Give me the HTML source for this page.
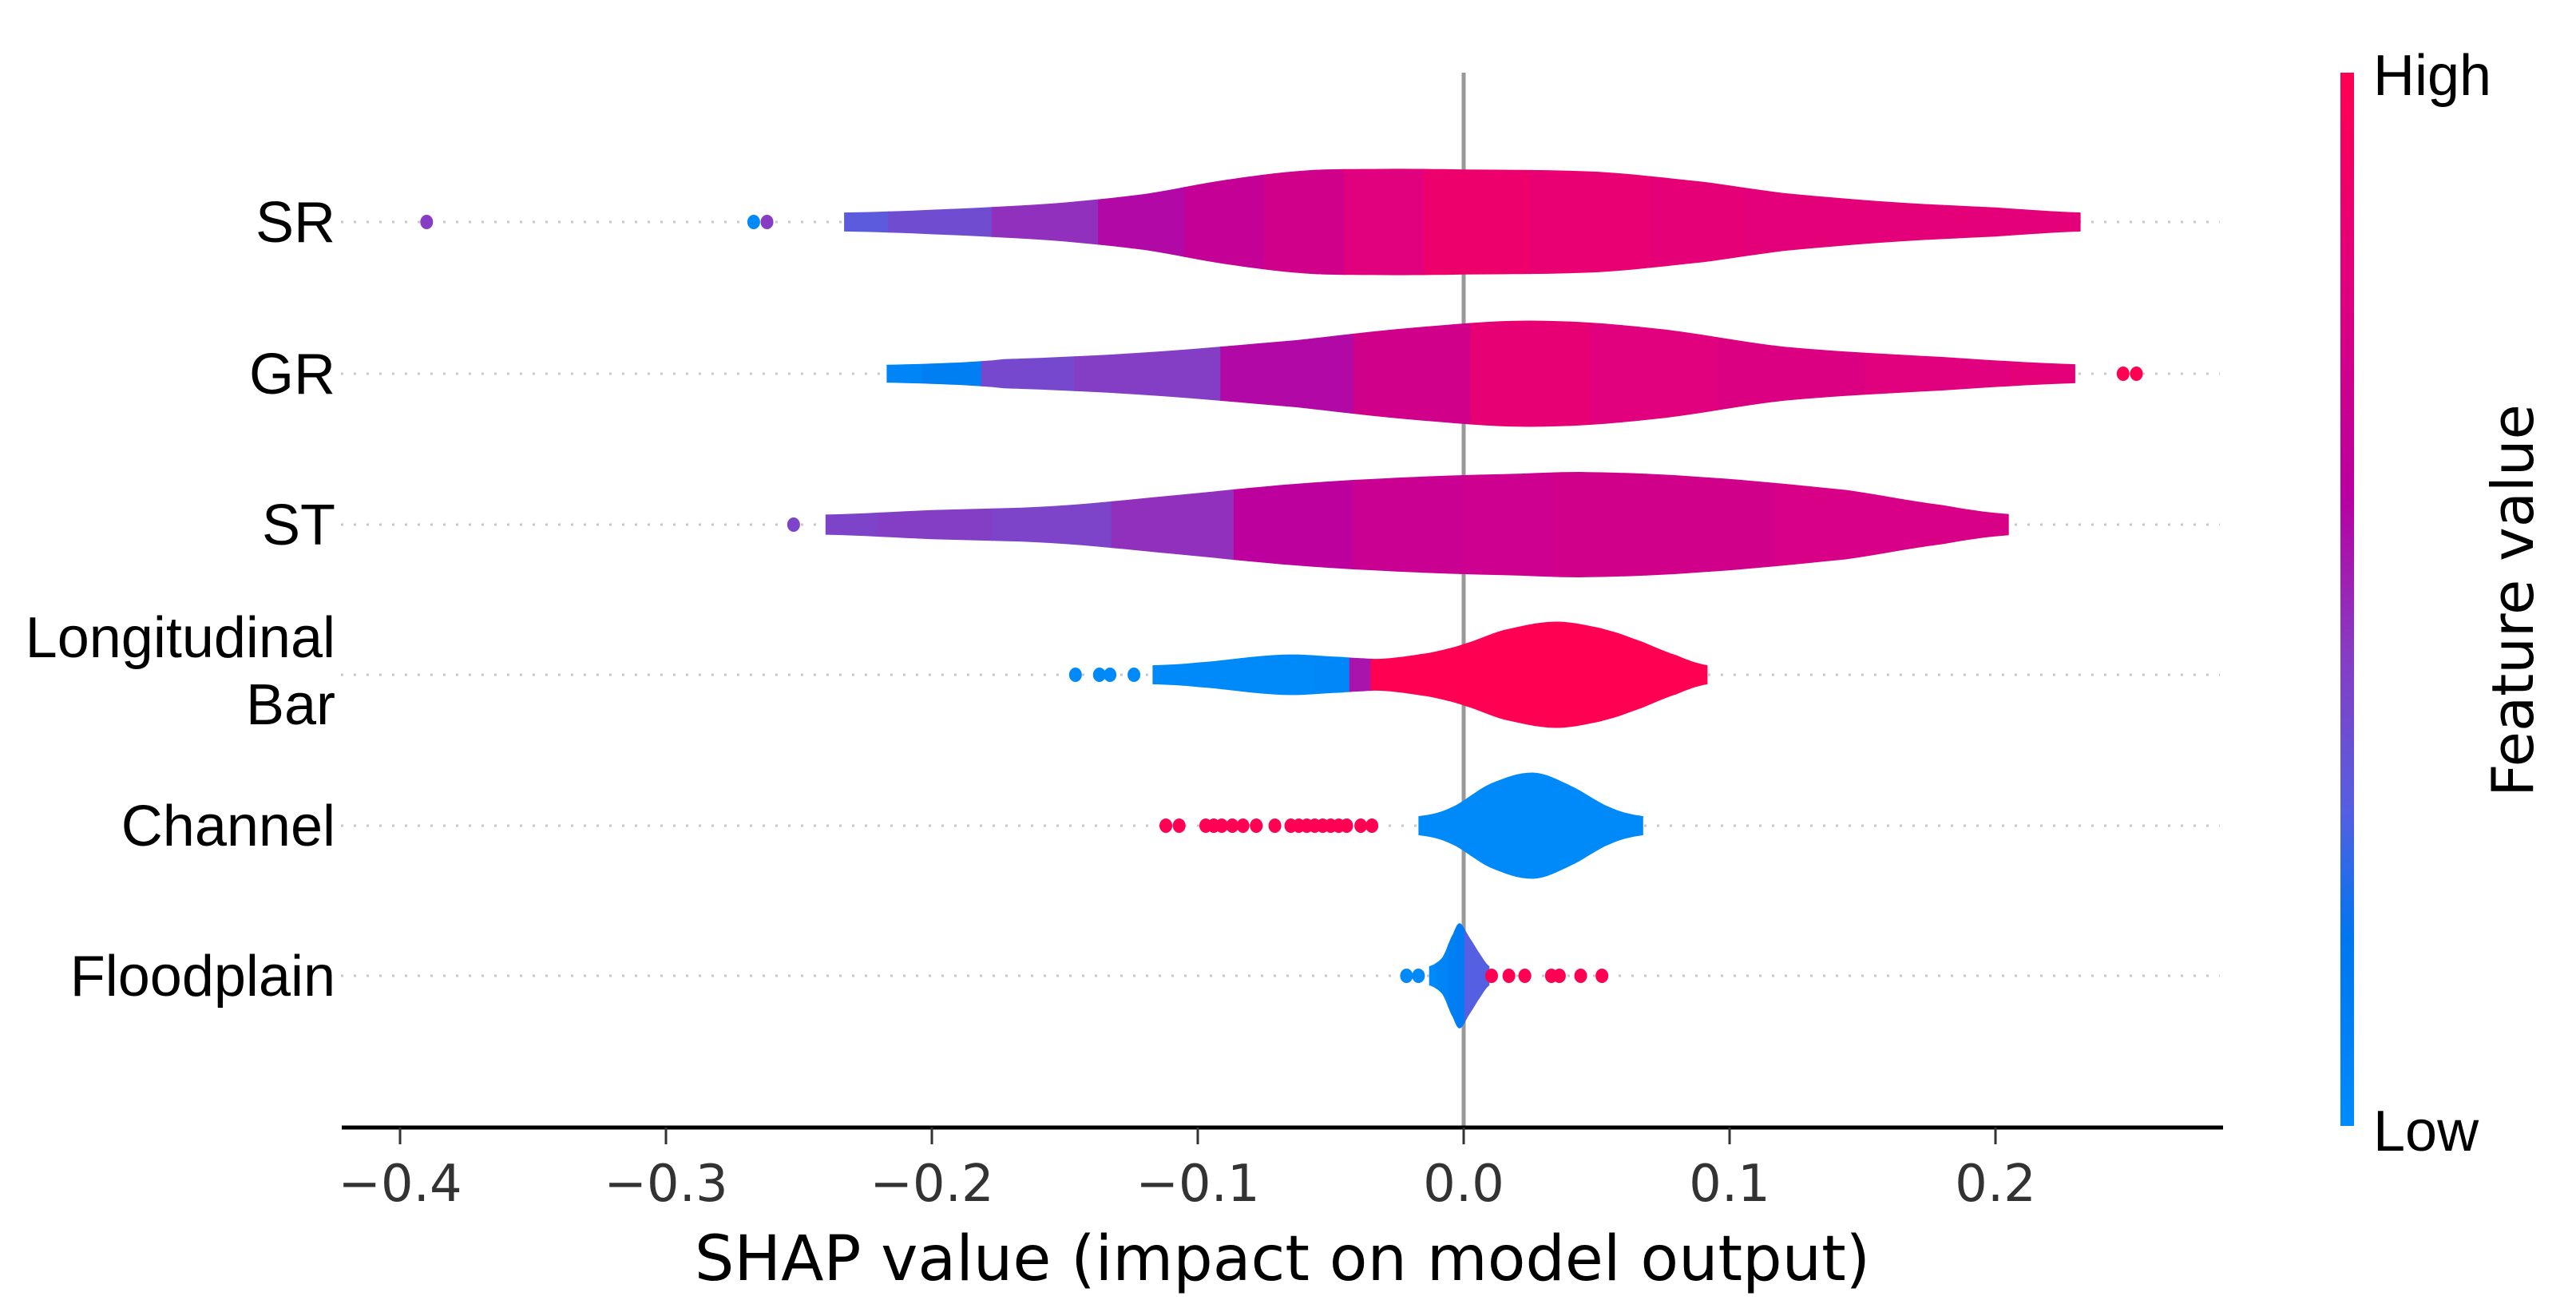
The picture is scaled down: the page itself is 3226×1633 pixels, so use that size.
<!DOCTYPE html>
<html><head><meta charset="utf-8"><style>
html,body{margin:0;padding:0;background:#fff;}
svg{display:block;}
</style></head><body>
<svg id="chart" width="3226" height="1633" viewBox="0 0 3226 1633" xmlns="http://www.w3.org/2000/svg">
<defs>
<linearGradient id="cbar" x1="0" y1="1" x2="0" y2="0">
<stop offset="0" stop-color="rgb(0,139,250)"/>
<stop offset="0.18" stop-color="rgb(0,118,238)"/>
<stop offset="0.3" stop-color="rgb(85,95,225)"/>
<stop offset="0.45" stop-color="rgb(135,60,195)"/>
<stop offset="0.6" stop-color="rgb(185,0,160)"/>
<stop offset="0.8" stop-color="rgb(225,0,125)"/>
<stop offset="1" stop-color="rgb(255,0,82)"/>
</linearGradient>
</defs>
<g id="plot"></g>
</svg>
<script>
// ---- data ----
const features = ["SR","GR","ST","Longitudinal Bar","Channel","Floodplain"];
const xTicks = [-0.4,-0.3,-0.2,-0.1,0.0,0.1,0.2];
const xTickLabels = ["\u22120.4","\u22120.3","\u22120.2","\u22120.1","0.0","0.1","0.2"];
const srX = [-0.233,-0.2,-0.155,-0.12,-0.09,-0.06,-0.03,0,0.05,0.09,0.12,0.16,0.2,0.232];
const srW = [0.17,0.22,0.33,0.5,0.75,0.92,0.95,0.94,0.9,0.72,0.52,0.36,0.26,0.17];
const srC = [0.32,0.38,0.48,0.58,0.66,0.72,0.8,0.88,0.85,0.83,0.82,0.82,0.82,0.82];
const grX = [-0.217,-0.19,-0.173,-0.12,-0.063,-0.02,0.025,0.07,0.121,0.18,0.23];
const grW = [0.16,0.2,0.26,0.38,0.6,0.82,0.95,0.82,0.48,0.3,0.17];
const grC = [0.05,0.1,0.4,0.44,0.58,0.72,0.84,0.8,0.77,0.8,0.82];
const stX = [-0.24,-0.2,-0.155,-0.11,-0.063,-0.02,0.02,0.047,0.09,0.144,0.18,0.205];
const stW = [0.18,0.26,0.33,0.52,0.73,0.85,0.91,0.94,0.85,0.62,0.35,0.19];
const stC = [0.42,0.44,0.42,0.48,0.62,0.68,0.7,0.72,0.72,0.75,0.75,0.75];
const lbX = [-0.117,-0.1,-0.068,-0.046,-0.04,-0.03,-0.012,0,0.015,0.034,0.05,0.063,0.08,0.0917];
const lbW = [0.17,0.22,0.36,0.32,0.3,0.29,0.4,0.55,0.8,0.95,0.85,0.66,0.35,0.17];
const lbC = [0.02,0.02,0.02,0.03,0.55,1,1,1,1,1,1,1,1,1];
const chX = [-0.017,-0.005,0.01,0.026,0.04,0.055,0.0675];
const chW = [0.17,0.32,0.75,0.95,0.72,0.33,0.17];
const chC = [0.02,0.02,0.02,0.02,0.02,0.02,0.02];
const fpX = [-0.013,-0.008,-0.004,-0.0015,0.002,0.006,0.0097];
const fpW = [0.17,0.33,0.75,0.94,0.7,0.4,0.17];
const fpC = [0.02,0.06,0.1,0.12,0.3,0.3,0.3];
const srDotsX = [-0.39,-0.267,-0.262];
const srDotsC = [0.45,0.02,0.45];
const grDotsX = [0.248,0.253];
const grDotsC = [1,1];
const stDotsX = [-0.252];
const stDotsC = [0.42];
const lbDotsX = [-0.146,-0.137,-0.133,-0.124];
const lbDotsC = [0.02,0.02,0.02,0.02];
const chDotsX = [-0.112,-0.107,-0.097,-0.094,-0.091,-0.087,-0.083,-0.078,-0.071,-0.065,-0.062,-0.059,-0.056,-0.053,-0.05,-0.047,-0.044,-0.0387,-0.0345];
const chDotsC = [1,1,1,1,1,1,1,1,1,1,1,1,1,1,1,1,1,1,1];
const fpDotsX = [-0.0215,-0.017,0.0105,0.017,0.023,0.033,0.036,0.044,0.052];
const fpDotsC = [0.02,0.02,1,1,1,1,1,1,1];

// ---- layout ----
const NS = "http://www.w3.org/2000/svg";
const X0 = 1833, PX = 3330; // px per unit
const xs = v => X0 + v * PX;
const rowY = [278, 468, 657, 845, 1034, 1222];
const HALF = 70;
const plot = document.getElementById('plot');
function el(tag, attrs, parent){ const e=document.createElementNS(NS,tag); for(const k in attrs) e.setAttribute(k,attrs[k]); (parent||plot).appendChild(e); return e; }
function cmap(t){
  const st=[[0,[0,139,250]],[0.18,[0,118,238]],[0.3,[85,95,225]],[0.45,[135,60,195]],[0.6,[185,0,160]],[0.8,[225,0,125]],[1,[255,0,82]]];
  for(let i=1;i<st.length;i++){ if(t<=st[i][0]){ const a=st[i-1],b=st[i]; const f=(t-a[0])/(b[0]-a[0]); return 'rgb('+a[1].map((c,j)=>Math.round(c+(b[1][j]-c)*f)).join(',')+')'; } }
  return 'rgb(255,0,82)';
}

rowY.forEach((y,i)=>{
  const l = el('line',{x1:427,x2:2780,y1:y,y2:y,stroke:'#c8c8c8','stroke-width':3,'stroke-dasharray':'3 13'});
  
  
});
const zl = el('line',{x1:xs(0),x2:xs(0),y1:91,y2:1411,stroke:'#999','stroke-width':5});



function smoothPts(X,W,y,sign){
  const pts=[];
  for(let i=0;i<X.length-1;i++){
    const p0=[xs(X[Math.max(i-1,0)]),W[Math.max(i-1,0)]],p1=[xs(X[i]),W[i]],p2=[xs(X[i+1]),W[i+1]],p3=[xs(X[Math.min(i+2,X.length-1)]),W[Math.min(i+2,X.length-1)]];
    for(let s=0;s<8;s++){
      const t=s/8,t2=t*t,t3=t2*t;
      const cr=(a,b,c,d)=>0.5*((2*b)+(-a+c)*t+(2*a-5*b+4*c-d)*t2+(-a+3*b-3*c+d)*t3);
      const xx=p1[0]+(p2[0]-p1[0])*t;
      pts.push([xx, y+sign*Math.max(0.1,cr(p0[1],p1[1],p2[1],p3[1]))*HALF]);
    }
  }
  pts.push([xs(X[X.length-1]), y+sign*W[W.length-1]*HALF]);
  return pts;
}
function violin(idx,X,W,C,name){
  const y=rowY[idx];
  const top=smoothPts(X,W,y,-1), bot=smoothPts(X,W,y,1).reverse();
  const d='M'+top.concat(bot).map(p=>p[0].toFixed(1)+','+p[1].toFixed(1)).join(' L')+' Z';
  const cp=el('clipPath',{id:'clip'+idx});
  el('path',{d:d},cp);
  const g=el('g',{'clip-path':'url(#clip'+idx+')'});
  
  
  for(let i=0;i<X.length;i++){
    const a=i===0?xs(X[0])-2:(xs(X[i-1])+xs(X[i]))/2;
    const b=i===X.length-1?xs(X[i])+2:(xs(X[i])+xs(X[i+1]))/2;
    el('rect',{x:a,y:y-HALF-5,width:b-a+1,height:2*HALF+10,fill:cmap(C[i])},g);
  }
}
function dots(idx,X,C,name){
  X.forEach((v,i)=>{
    const c=el('ellipse',{cx:xs(v),cy:rowY[idx],rx:8,ry:9,fill:cmap(C[i])});
    
    
  });
}
violin(0,srX,srW,srC,'sr'); dots(0,srDotsX,srDotsC,'sr');
violin(1,grX,grW,grC,'gr'); dots(1,grDotsX,grDotsC,'gr');
violin(2,stX,stW,stC,'st'); dots(2,stDotsX,stDotsC,'st');
violin(3,lbX,lbW,lbC,'longitudinal-bar'); dots(3,lbDotsX,lbDotsC,'longitudinal-bar');
violin(4,chX,chW,chC,'channel'); dots(4,chDotsX,chDotsC,'channel');
violin(5,fpX,fpW,fpC,'floodplain'); dots(5,fpDotsX,fpDotsC,'floodplain');

features.forEach((f,i)=>{
  const t=el('text',{x:420,y:rowY[i]+25,'text-anchor':'end','font-family':'Liberation Sans, Arial, sans-serif','font-size':72,fill:'#000'});
  
  
  if(f==='Longitudinal Bar'){
    el('tspan',{x:420,y:rowY[i]-22},t).textContent='Longitudinal';
    el('tspan',{x:420,y:rowY[i]+62},t).textContent='Bar';
  } else t.textContent=f;
});

const ax=el('line',{x1:428,x2:2784,y1:1412,y2:1412,stroke:'#000','stroke-width':5});


xTicks.forEach((v,i)=>{
  const tk=el('line',{x1:xs(v),x2:xs(v),y1:1412,y2:1433,stroke:'#333','stroke-width':3});
  
  
  const tl=el('text',{x:xs(v),y:1504,'text-anchor':'middle','font-family':'DejaVu Sans, sans-serif','font-size':64,fill:'#333'});
  
  
  tl.textContent=xTickLabels[i];
});
const xl=el('text',{x:1606,y:1603,'text-anchor':'middle','font-family':'DejaVu Sans, sans-serif','font-size':78,fill:'#000'});


xl.textContent='SHAP value (impact on model output)';

const cb=el('rect',{x:2931,y:91,width:17,height:1319,fill:'url(#cbar)'});


const hi=el('text',{x:2972,y:119,'font-family':'Liberation Sans, Arial, sans-serif','font-size':72,fill:'#000'});


hi.textContent='High';
const lo=el('text',{x:2972,y:1441,'font-family':'Liberation Sans, Arial, sans-serif','font-size':72,fill:'#000'});


lo.textContent='Low';
const ft=el('text',{x:3172,y:752,'text-anchor':'middle','font-family':'DejaVu Sans, sans-serif','font-size':72,fill:'#000',transform:'rotate(-90 3172 752)'});


ft.textContent='Feature value';
</script>
</body></html>
